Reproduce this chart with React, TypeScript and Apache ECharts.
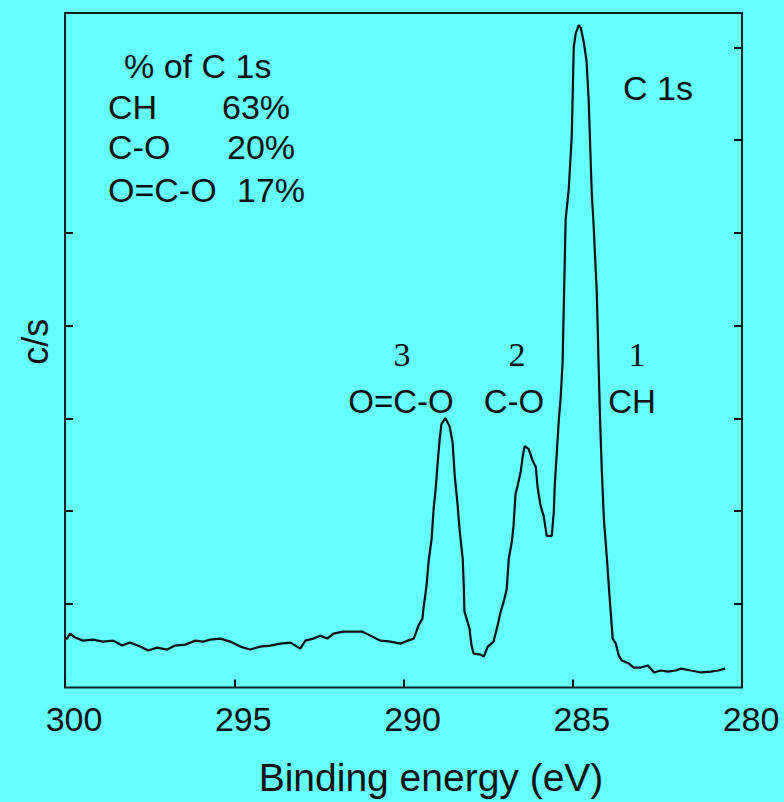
import React, { useEffect, useRef } from "react";
import * as echarts from "echarts";

// Binding energy (eV) of each sampled point of the C 1s spectrum
const energy = [
  300.0, 299.94, 299.85, 299.7, 299.47, 299.17, 298.88, 298.58, 298.31, 298.08,
  297.78, 297.54, 297.28, 296.98, 296.75, 296.45, 296.15, 295.92, 295.71, 295.41,
  295.12, 294.82, 294.53, 294.23, 293.93, 293.64, 293.34, 293.05, 292.9, 292.66,
  292.46, 292.25, 292.07, 291.78, 291.48, 291.21, 290.98, 290.68, 290.38, 290.09,
  289.88, 289.7, 289.64, 289.56, 289.44, 289.41, 289.32, 289.26, 289.17, 289.11,
  289.05, 288.99, 288.93, 288.88, 288.76, 288.64, 288.55, 288.49, 288.4, 288.34,
  288.25, 288.22, 288.2, 288.11, 288.05, 287.99, 287.93, 287.72, 287.63, 287.51,
  287.34, 287.22, 287.13, 287.04, 286.95, 286.89, 286.8, 286.75, 286.69, 286.63,
  286.54, 286.48, 286.42, 286.3, 286.18, 286.09, 286.04, 285.95, 285.86, 285.77,
  285.62, 285.56, 285.53, 285.47, 285.41, 285.36, 285.3, 285.27, 285.21, 285.12,
  285.03, 284.97, 284.91, 284.82, 284.76, 284.67, 284.59, 284.53, 284.44, 284.38,
  284.29, 284.2, 284.14, 284.08, 283.99, 283.93, 283.88, 283.82, 283.73, 283.64,
  283.55, 283.34, 283.2, 282.99, 282.78, 282.6, 282.4, 282.19, 281.95, 281.8,
  281.51, 281.21, 280.92, 280.7, 280.5,
];

// Intensity (c/s) at each energy
const counts = [
  627, 627, 681, 638, 605, 616, 595, 605, 552, 584,
  541, 498, 530, 509, 552, 562, 605, 595, 616, 627,
  595, 541, 509, 541, 552, 573, 584, 519, 605, 627,
  659, 627, 681, 702, 702, 702, 659, 605, 595, 573,
  605, 627, 681, 767, 842, 949, 1197, 1455, 1702, 2025,
  2240, 2530, 2777, 2939, 3003, 2917, 2745, 2401, 2057, 1788,
  1487, 1197, 920, 810, 734, 552, 466, 455, 433, 541,
  595, 767, 917, 1025, 1165, 1487, 1670, 1842, 2186, 2272,
  2423, 2584, 2702, 2670, 2541, 2476, 2261, 2057, 1950, 1734,
  1734, 1993, 2294, 2638, 2993, 3208, 3605, 4122, 5143, 5466,
  6036, 7003, 7154, 7240, 7208, 7046, 6842, 6434, 5444, 5057,
  4358, 3068, 2423, 1917, 1487, 1165, 917, 627, 573, 444,
  390, 358, 315, 315, 337, 262, 283, 272, 283, 304,
  283, 262, 272, 283, 304,
];

const xTicks = [300, 295, 290, 285, 280];
const leftYTicks = [1000, 2000, 3000, 4000, 5000];
const rightYTicks = [1000, 2000, 3000, 4000, 5000, 6000, 7000];

const componentLabels = ["CH", "C-O", "O=C-O"];
const componentShares = ["63%", "20%", "17%"];
const peakNumbers = ["1", "2", "3"];

const SANS = "'Liberation Sans', Arial, sans-serif";
const SERIF = "'Liberation Serif', 'Times New Roman', serif";
const INK = "#111";
const BG = "#66ffff";

export default function App() {
  const ref = useRef<HTMLDivElement>(null);

  useEffect(() => {
    if (!ref.current) return;
    const chart = echarts.init(ref.current, undefined, { renderer: "svg" });
    const data = energy.map((e, i) => [e, counts[i]]);

    const txt = (text: string, x: number, y: number, align: string, size = 34, family = SANS) => ({
      type: "text",
      x,
      y,
      style: {
        text,
        fill: INK,
        fontSize: size,
        fontFamily: family,
        align,
        verticalAlign: "middle",
      },
    });

    const yBase = {
      type: "value",
      min: 100,
      max: 7370,
      axisLine: { show: false },
      axisLabel: { show: false },
      splitLine: { show: false },
    };

    chart.setOption({
      animation: false,
      backgroundColor: BG,
      grid: {
        left: 65,
        right: 42,
        top: 13,
        bottom: 113,
        show: true,
        borderColor: "#112222",
        borderWidth: 2,
        backgroundColor: "transparent",
      },
      xAxis: {
        type: "value",
        min: 280,
        max: 300,
        interval: 5,
        inverse: true,
        name: "Binding energy (eV)",
        nameLocation: "middle",
        nameGap: 90,
        nameTextStyle: {
          fontSize: 39,
          fontFamily: SANS,
          color: INK,
          verticalAlign: "middle",
          padding: [0, 0, 0, 55],
        },
        axisLine: { show: false },
        axisTick: {
          show: true,
          inside: true,
          length: 8,
          lineStyle: { color: INK, width: 2 },
          customValues: xTicks,
        },
        axisLabel: {
          fontSize: 34,
          fontFamily: SANS,
          color: INK,
          margin: 31,
          verticalAlign: "middle",
          padding: [0, 0, 0, 18],
          customValues: xTicks,
        },
        splitLine: { show: false },
      },
      yAxis: [
        {
          ...yBase,
          position: "left",
          name: "c/s",
          nameLocation: "middle",
          nameGap: 30,
          nameTextStyle: {
            fontSize: 36,
            fontFamily: SANS,
            color: INK,
            verticalAlign: "middle",
            padding: [0, 0, 0, 17],
          },
          axisTick: {
            show: true,
            inside: true,
            length: 8,
            lineStyle: { color: INK, width: 2 },
            customValues: leftYTicks,
          },
        },
        {
          ...yBase,
          position: "right",
          axisTick: {
            show: true,
            inside: true,
            length: 8,
            lineStyle: { color: INK, width: 2 },
            customValues: rightYTicks,
          },
        },
      ],
      series: [
        {
          type: "line",
          data,
          xAxisIndex: 0,
          yAxisIndex: 0,
          symbol: "none",
          lineStyle: { color: INK, width: 2.2 },
          clip: true,
        },
      ],
      graphic: [
        txt("% of C 1s", 124, 66, "left"),
        txt(componentLabels[0], 108, 107, "left"),
        txt(componentShares[0], 222, 107, "left"),
        txt(componentLabels[1], 108, 147, "left"),
        txt(componentShares[1], 227, 147, "left"),
        txt(componentLabels[2], 108, 190, "left"),
        txt(componentShares[2], 237, 190, "left"),
        txt("C 1s", 623, 88, "left"),
        txt(peakNumbers[2], 402, 354, "center", 34, SERIF),
        txt(peakNumbers[1], 517, 354, "center", 34, SERIF),
        txt(peakNumbers[0], 637, 354, "center", 34, SERIF),
        txt(componentLabels[2], 401, 401, "center", 33),
        txt(componentLabels[1], 514, 401, "center", 33),
        txt(componentLabels[0], 632, 401, "center", 33),
      ],
    });

    return () => chart.dispose();
  }, []);

  return (
    <div
      ref={ref}
      style={{ position: "fixed", left: 0, top: 0, width: 784, height: 802, background: BG }}
    />
  );
}
